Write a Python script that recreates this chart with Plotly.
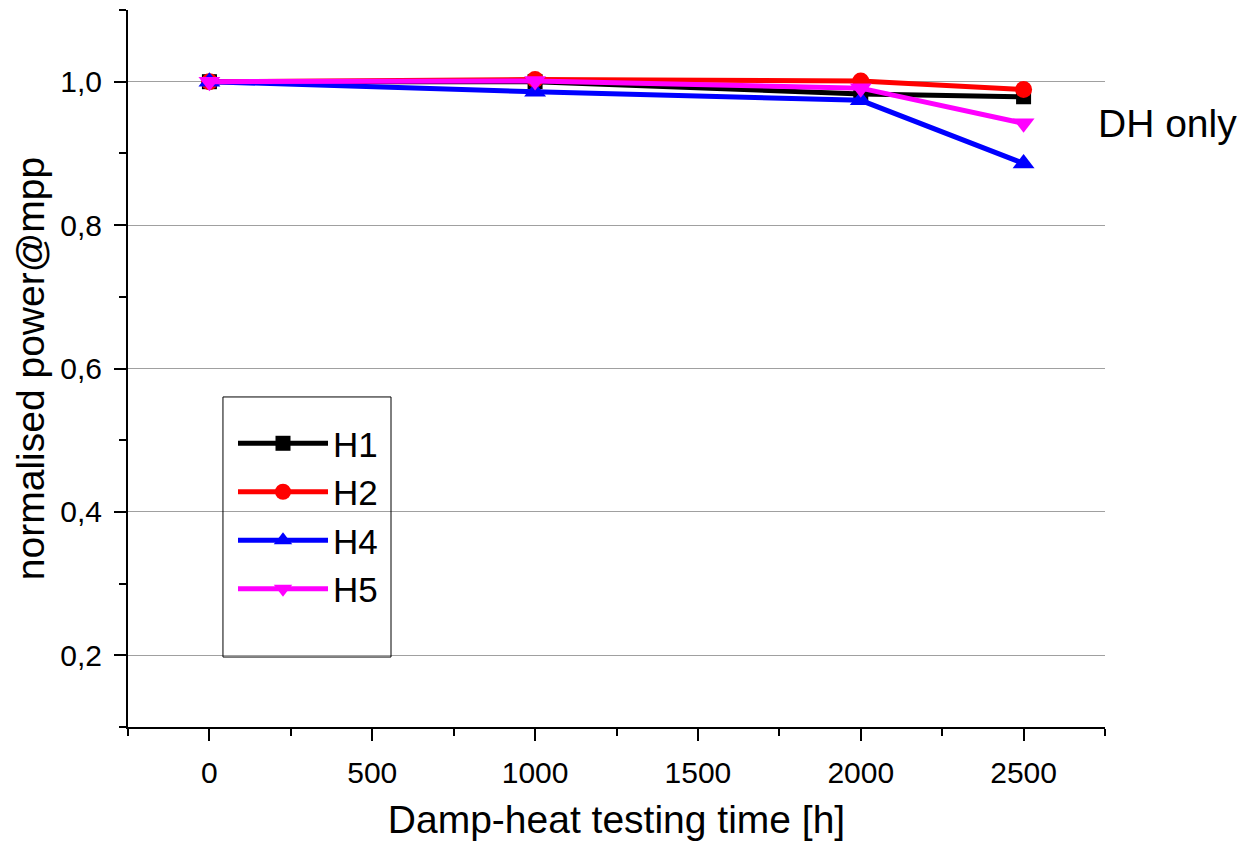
import plotly.graph_objects as go

hours = [0, 1000, 2000, 2500]
h1 = [1.000, 1.000, 0.983, 0.979]
h2 = [1.000, 1.003, 1.001, 0.989]
h4 = [1.000, 0.986, 0.974, 0.886]
h5 = [1.000, 1.001, 0.991, 0.942]

series = [
    ("H1", h1, "black", "square", 15),
    ("H2", h2, "red", "circle", 17),
    ("H4", h4, "blue", "triangle-up", 19),
    ("H5", h5, "magenta", "triangle-down", 19),
]

FONT = "Liberation Sans"

fig = go.Figure()
for name, ys, color, symbol, msize in series:
    fig.add_trace(go.Scatter(
        x=hours, y=ys, name=name, mode="lines+markers",
        line=dict(color=color, width=5),
        marker=dict(symbol=symbol, size=msize, color=color),
    ))

# label at the right of the plot area
fig.add_annotation(
    text="DH only", xref="paper", yref="paper", x=0.991, y=0.842,
    xanchor="left", yanchor="middle", showarrow=False,
    font=dict(size=39, color="black", family=FONT),
)

# fixed-size frame around the legend
fig.add_shape(
    type="rect", xref="paper", yref="paper",
    x0=0.0972, x1=0.2692, y0=0.0976, y1=0.4603,
    line=dict(color="black", width=1), fillcolor="rgba(0,0,0,0)", layer="above",
)

tick_common = dict(
    ticks="outside", ticklen=12, tickwidth=2, tickcolor="black",
    showline=True, linecolor="black", linewidth=2, zeroline=False,
    tickfont=dict(size=30, family=FONT, color="black"),
)

fig.update_layout(
    width=1240, height=847,
    margin=dict(l=128, r=135, t=10, b=120),
    paper_bgcolor="white", plot_bgcolor="white",
    separators=",.",
    font=dict(family=FONT, color="black"),
    showlegend=True,
    legend=dict(
        x=(233 - 128) / 977, y=0.4365, xanchor="left", yanchor="top",
        borderwidth=0, bgcolor="rgba(0,0,0,0)",
        font=dict(size=35, family=FONT), itemwidth=90,
        tracegroupgap=0,
    ),
    xaxis=dict(
        range=[-250, 2750], tickvals=[0, 500, 1000, 1500, 2000, 2500],
        showgrid=False, ticklabelstandoff=6,
        minor=dict(dtick=250, ticks="outside", ticklen=7, tickwidth=2, tickcolor="black"),
        title=dict(text="Damp-heat testing time [h]", font=dict(size=39, family=FONT), standoff=18),
        **tick_common,
    ),
    yaxis=dict(
        range=[0.1, 1.1], tickvals=[0.2, 0.4, 0.6, 0.8, 1.0], tickformat=".1f",
        showgrid=True, gridcolor="#a0a0a0", gridwidth=1, ticklabelstandoff=6,
        minor=dict(dtick=0.1, ticks="outside", ticklen=7, tickwidth=2, tickcolor="black", showgrid=False),
        title=dict(text="normalised power@mpp", font=dict(size=39, family=FONT), standoff=4),
        **tick_common,
    ),
)

fig.write_html("out.html")
